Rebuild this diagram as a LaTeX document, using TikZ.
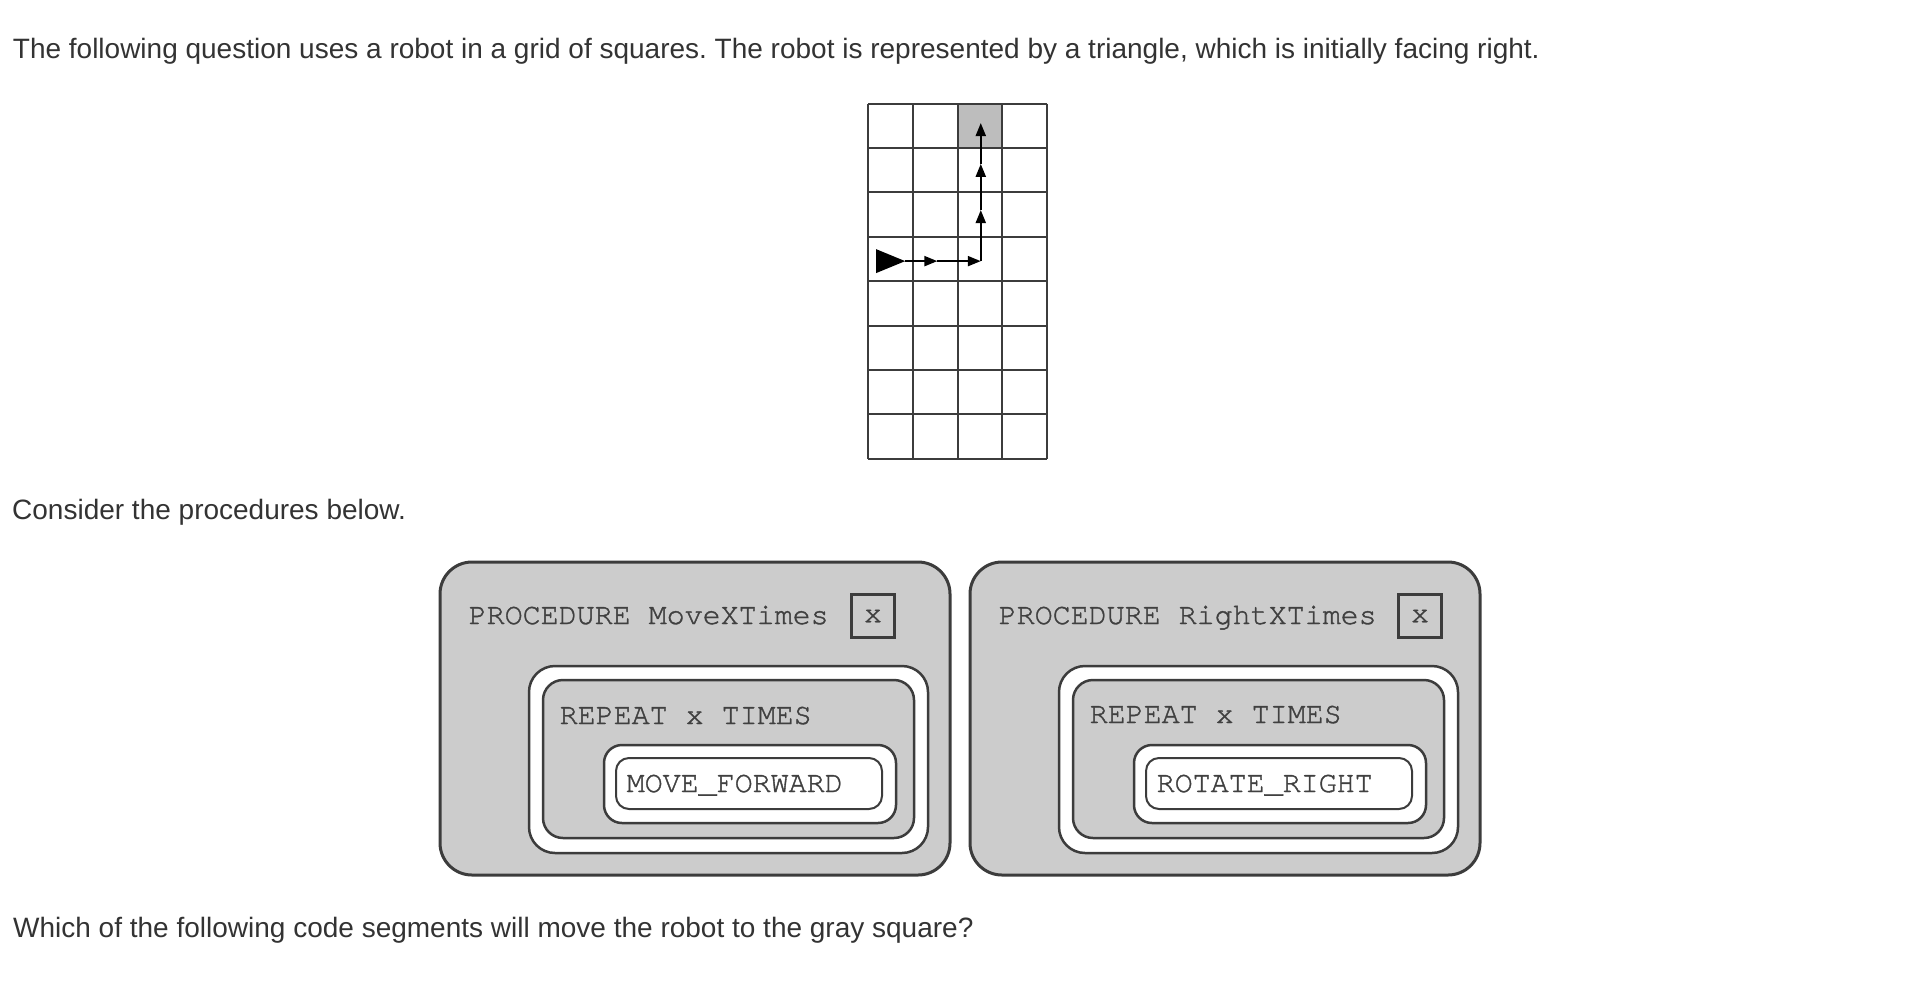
\documentclass[tikz,border=0pt]{standalone}
\usepackage{fontspec}
\setmainfont{Liberation Sans}
\setmonofont{TeX Gyre Cursor}[FakeBold=1.2]
\usetikzlibrary{arrows.meta}
\frenchspacing

\definecolor{textgray}{HTML}{333333}
\definecolor{codegray}{HTML}{404040}
\definecolor{linegray}{HTML}{3C3C3C}
\definecolor{boxfill}{HTML}{CCCCCC}
\definecolor{goalfill}{HTML}{BDBDBD}

\newcommand\questfont{\fontsize{28}{33}\selectfont}
\newcommand\procfont{\ttfamily\fontsize{30}{36}\selectfont}

\tikzset{
  question/.style={anchor=base west,inner sep=0pt,font=\questfont,text=textgray},
  proclabel/.style={anchor=base west,inner sep=0pt,font=\procfont,text=codegray},
  argbox/.style={draw=linegray,line width=2.5pt,fill=boxfill,minimum size=43pt,inner sep=0pt,font=\procfont,text=codegray},
  procbox/.style={draw=linegray,line width=3pt,fill=boxfill,rounded corners=32pt},
  loopframe/.style={draw=linegray,line width=2.5pt,fill=white,rounded corners=26pt},
  loopbox/.style={draw=linegray,line width=2.5pt,fill=boxfill,rounded corners=20pt},
  cmdframe/.style={draw=linegray,line width=2.5pt,fill=white,rounded corners=18pt},
  cmdbox/.style={draw=linegray,line width=2pt,fill=white,rounded corners=13pt},
  gridline/.style={draw=linegray,line width=2pt},
  moveline/.style={draw=black,line width=2pt,-{Triangle[length=13pt,width=10pt]}}
}

\begin{document}
\begin{tikzpicture}[x=1pt,y=-1pt]
\useasboundingbox[fill=white] (0,0) rectangle (1916,986);

\node(intro)[question] at (12.7,58.3) {The following question uses a robot in a grid of squares. The robot is represented by a triangle, which is initially facing right.};
\node(consider)[question] at (12,519.3) {Consider the procedures below.};
\node(ask)[question] at (13,937.7) {Which of the following code segments will move the robot to the gray square?};

% the grid, one unit per square
\begin{scope}[shift={(868,103.5)},x=44.75pt,y=-44.4pt]
\fill[goalfill] (2,0) rectangle (3,1);
\foreach \col in {0,...,4}
  \draw[gridline] (\col,0) -- (\col,8);
\foreach \row in {0,...,8}
  \draw[gridline] (0,\row) -- (4,\row);

\coordinate(robot) at (0.83,3.55);
\coordinate(p1) at (1.55,3.55);
\coordinate(p2) at (2.52,3.55);
\coordinate(p3) at (2.52,2.40);
\coordinate(p4) at (2.52,1.36);
\coordinate(p5) at (2.52,0.44);

\fill[black] (robot) -- ++(-0.65,-0.27) -- ++(0,0.54) -- cycle;
\draw[moveline] (robot) -- (p1);
\draw[moveline] (p1) -- (p2);
\draw[moveline] (p2) -- (p3);
\draw[moveline] (p3) -- (p4);
\draw[moveline] (p4) -- (p5);
\end{scope}

% MoveXTimes
\draw[procbox] (440,562) rectangle (950,875);
\node(movetitle)[proclabel] at (468.5,624) {PROCEDURE MoveXTimes};
\node(movearg)[argbox] at (873,616) {x};
\draw[loopframe] (529,666) rectangle (928,853);
\draw[loopbox] (543,680) rectangle (914,838);
\node(moverepeat)[proclabel] at (559.5,724) {REPEAT x TIMES};
\draw[cmdframe] (604,745) rectangle (896,823);
\draw[cmdbox] (616,758) rectangle (882,809);
\node(movecmd)[proclabel] at (626.5,792) {MOVE\_FORWARD};

% RightXTimes
\draw[procbox] (970,562) rectangle (1480,875);
\node(righttitle)[proclabel] at (998.5,624) {PROCEDURE RightXTimes};
\node(rightarg)[argbox] at (1420,616) {x};
\draw[loopframe] (1059,666) rectangle (1458,853);
\draw[loopbox] (1073,680) rectangle (1444,838);
\node(rightrepeat)[proclabel] at (1089.5,723) {REPEAT x TIMES};
\draw[cmdframe] (1134,745) rectangle (1426,823);
\draw[cmdbox] (1146,758) rectangle (1412,809);
\node(rightcmd)[proclabel] at (1156.5,792) {ROTATE\_RIGHT};

\end{tikzpicture}
\end{document}
